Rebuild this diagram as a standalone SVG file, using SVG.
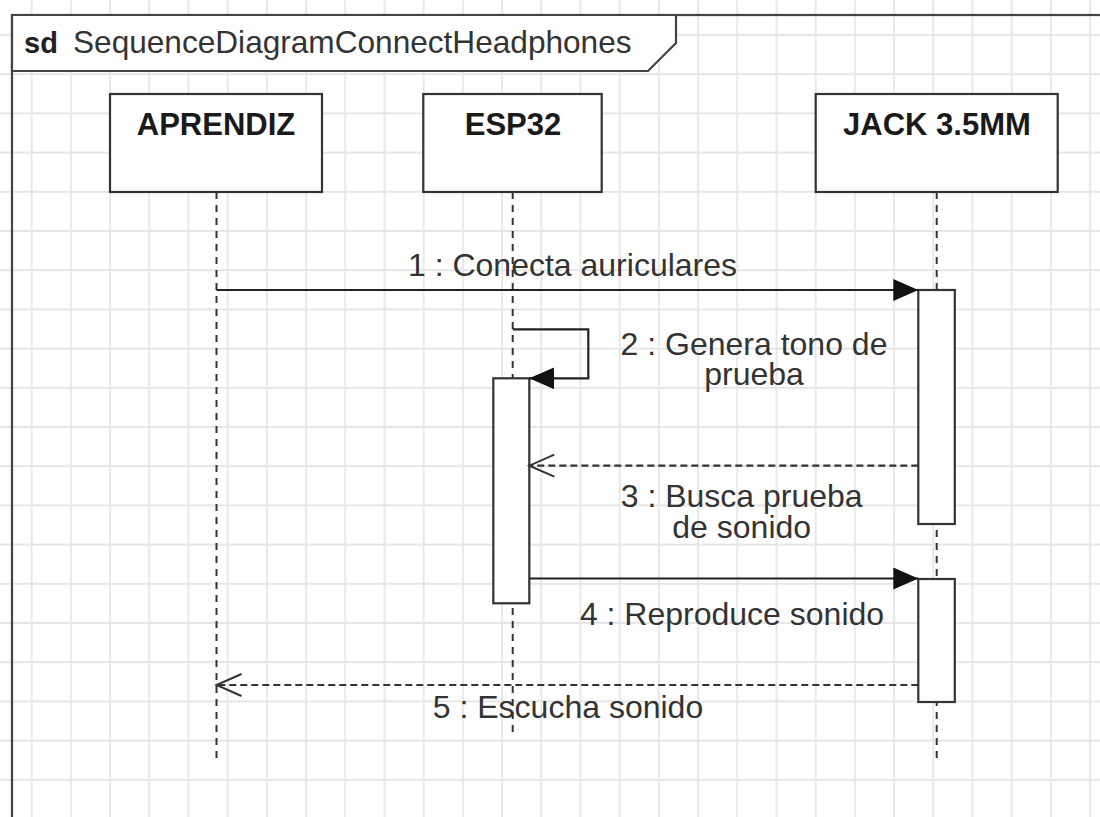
<svg xmlns="http://www.w3.org/2000/svg" width="1100" height="817" viewBox="0 0 1100 817">
<style>
.box{fill:#fff;stroke:#333;stroke-width:2.2}
.act{fill:#fff;stroke:#333;stroke-width:2.2}
.life{stroke:#333;stroke-width:2;fill:none;stroke-dasharray:7 6}
.msg{stroke:#222;stroke-width:2.2;fill:none}
.ret{stroke:#333;stroke-width:2.2;fill:none;stroke-dasharray:7 4}
.pt{font-family:"Liberation Sans",Arial,sans-serif;font-weight:bold;font-size:31px;fill:#1a1a1a;text-anchor:middle}
.lbl{font-family:"Liberation Sans",Arial,sans-serif;font-size:32px;fill:#333;text-anchor:middle}
</style>
<defs>
<pattern id="grid" patternUnits="userSpaceOnUse" x="12.1" y="15.4" width="39.2" height="39.2">
<path d="M19.6,0V39.2M0,19.6H39.2" stroke="#e6e6e6" stroke-width="1.8" fill="none"/>
</pattern>
<marker id="fill" markerUnits="userSpaceOnUse" viewBox="0 0 26 22" refX="25" refY="11" markerWidth="26" markerHeight="22" orient="auto">
<path d="M0,0 L25,11 L0,22 Z" fill="#111"/>
</marker>
<marker id="open" markerUnits="userSpaceOnUse" viewBox="-2 -2 30 26" refX="25" refY="11" markerWidth="30" markerHeight="26" orient="auto">
<path d="M0,0 L25,11 L0,22" fill="none" stroke="#333" stroke-width="2"/>
</marker>
</defs>
<rect width="1100" height="817" fill="#fff"/>
<rect width="1100" height="817" fill="url(#grid)"/>
<g id="frame">
<rect x="12" y="15" width="1200" height="900" fill="none" stroke="#444" stroke-width="2.2"/>
<path d="M12,15 H676 V43 L648,71 H12 Z" fill="#fff" stroke="#444" stroke-width="2.2"/>
<text x="24" y="53" font-family="Liberation Sans,Arial,sans-serif" font-weight="bold" font-size="29" fill="#222">sd</text>
<text x="73" y="53" font-family="Liberation Sans,Arial,sans-serif" font-size="31.6" fill="#333">SequenceDiagramConnectHeadphones</text>
</g>
<g id="lifelines">
<line class="life" x1="216.5" y1="192" x2="216.5" y2="760"/>
<line class="life" x1="512.7" y1="192" x2="512.7" y2="732"/>
<line class="life" x1="936.7" y1="192" x2="936.7" y2="760"/>
</g>
<g id="APRENDIZ">
<rect class="box" x="110" y="94" width="212" height="98"/>
<text class="pt" x="216" y="135">APRENDIZ</text>
</g>
<g id="ESP32">
<rect class="box" x="423.3" y="94" width="178.4" height="98"/>
<text class="pt" x="513" y="135">ESP32</text>
</g>
<g id="JACK">
<rect class="box" x="815.7" y="94" width="242" height="98"/>
<text class="pt" x="937" y="135">JACK 3.5MM</text>
</g>
<g id="activations">
<rect id="act-esp32" class="act" x="493.3" y="378.3" width="36" height="225"/>
<rect id="act-jack1" class="act" x="918.3" y="290" width="36.5" height="234"/>
<rect id="act-jack2" class="act" x="918.3" y="579" width="36.5" height="123"/>
</g>
<g id="connectors">
<line class="msg" x1="216.5" y1="290" x2="918.3" y2="290" marker-end="url(#fill)"/>
<path class="msg" d="M512.7,329.3 H588.3 V378.3 H529.3" marker-end="url(#fill)"/>
<line class="ret" x1="918.3" y1="465.7" x2="529.3" y2="465.7" marker-end="url(#open)"/>
<line class="msg" x1="529.3" y1="578.5" x2="918.3" y2="578.5" marker-end="url(#fill)"/>
<line class="ret" x1="918.3" y1="685" x2="216.5" y2="685" marker-end="url(#open)"/>
</g>
<g id="labels">
<text class="lbl" x="572.5" y="276">1 : Conecta auriculares</text>
<text class="lbl" x="754" y="355">2 : Genera tono de<tspan x="754" dy="30">prueba</tspan></text>
<text class="lbl" x="741.7" y="507">3 : Busca prueba<tspan x="741.7" dy="30.5">de sonido</tspan></text>
<text class="lbl" x="732" y="625">4 : Reproduce sonido</text>
<text class="lbl" x="568" y="718">5 : Escucha sonido</text>
</g>
</svg>
